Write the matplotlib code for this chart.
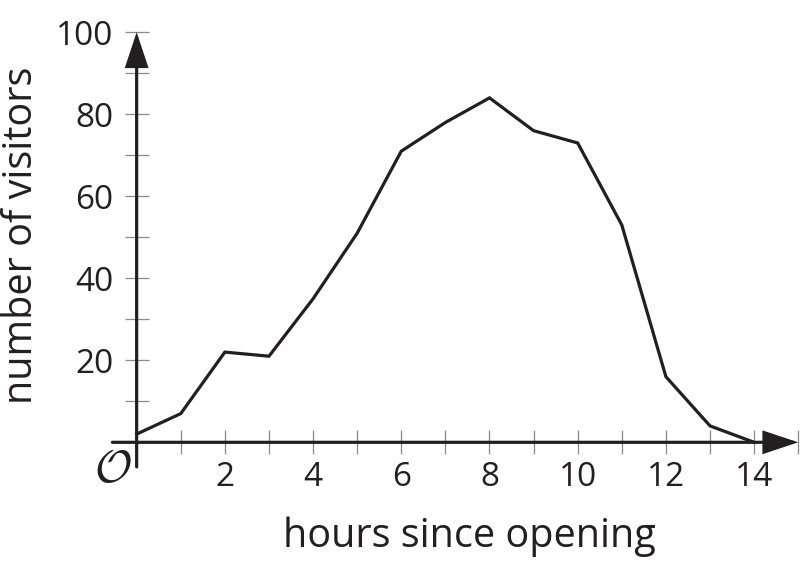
import matplotlib
matplotlib.use("Agg")
import matplotlib.pyplot as plt
from matplotlib.ticker import FixedLocator

hours = [0, 1, 2, 3, 4, 5, 6, 7, 8, 9, 10, 11, 12, 13, 14]
visitors = [2, 7, 22, 21, 35, 51, 71, 78, 84, 76, 73, 53, 16, 4, 0]
x_major = [2, 4, 6, 8, 10, 12, 14]
x_minor = [1, 3, 5, 7, 9, 11, 13, 15]
y_major = [20, 40, 60, 80, 100]
y_minor = [10, 30, 50, 70, 90]

ink = '#231f20'
tickc = '#8a8a8a'
plt.rcParams['font.family'] = ['Open Sans', 'DejaVu Sans']

fig = plt.figure(figsize=(8.09, 5.67), dpi=100)
ax = fig.add_axes([0.1362, 0.1693, 0.8532, 0.781])
ax.set_xlim(-0.6, 15.05)
ax.set_ylim(-7, 101)

for s in ax.spines.values():
    s.set_visible(False)
ax.spines['left'].set_position(('data', 0))
ax.spines['bottom'].set_position(('data', 0))

ax.xaxis.set_major_locator(FixedLocator(x_major))
ax.xaxis.set_minor_locator(FixedLocator(x_minor))
ax.yaxis.set_major_locator(FixedLocator(y_major))
ax.yaxis.set_minor_locator(FixedLocator(y_minor))
ax.set_xticklabels([str(v) for v in x_major])
ax.set_yticklabels([str(v) for v in y_major])
ax.tick_params(which='both', direction='inout', length=17.5, width=0.9,
               color=tickc, labelcolor=ink, labelsize=24)
ax.tick_params(axis='x', which='major', pad=5)
ax.tick_params(axis='y', which='major', pad=8)

ax.plot(hours, visitors, color=ink, lw=2.3, solid_joinstyle='miter', zorder=3)

astyle = '-|>,head_length=2.1,head_width=0.7'
ax.annotate('', xy=(15, 0), xytext=(-0.55, 0),
            arrowprops=dict(arrowstyle=astyle, lw=2.3, color=ink,
                            shrinkA=0, shrinkB=0, joinstyle='miter'))
ax.annotate('', xy=(0, 100), xytext=(0, -6),
            arrowprops=dict(arrowstyle=astyle, lw=2.3, color=ink,
                            shrinkA=0, shrinkB=0, joinstyle='miter'))

ax.text(-0.12, -1.2, r'$\mathcal{O}$', math_fontfamily='cm', fontsize=33,
        color=ink, ha='right', va='top')

fig.text(469 / 809, 1 - 537 / 567, 'hours since opening', ha='center', va='center',
         fontsize=28.5, color=ink)
fig.text(22 / 809, 1 - 235 / 567, 'number of visitors', ha='center', va='center',
         rotation=90, fontsize=28.5, color=ink)

fig.savefig('out.png', dpi=100)
